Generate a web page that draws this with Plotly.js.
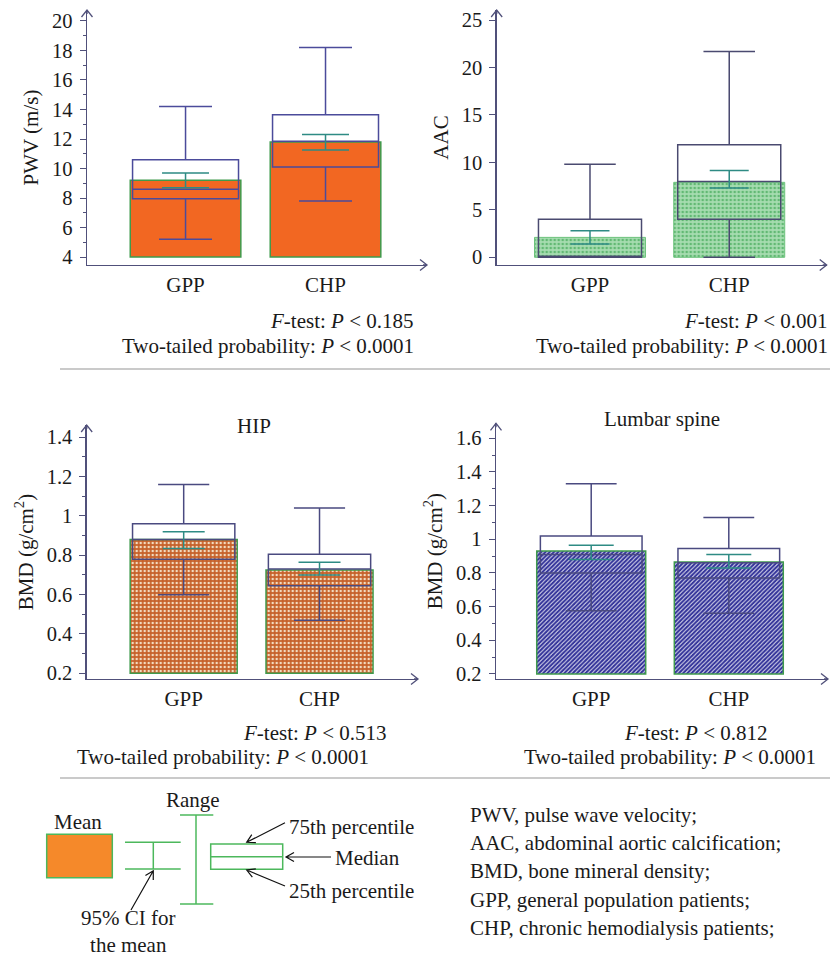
<!DOCTYPE html>
<html>
<head>
<meta charset="utf-8">
<script src="https://cdn.plot.ly/plotly-3.0.1.min.js"></script>
<style>html,body{margin:0;padding:0;background:#fff;}#chart{width:830px;height:978px;}</style>
</head>
<body>
<div id="chart"></div>
<script>
// ---------------- DATA ----------------
const categories = ['GPP', 'CHP'];

// PWV (m/s)
const pwvMean   = [9.2, 11.8];
const pwvQ1     = [7.95, 10.1];
const pwvMedian = [8.6, 11.85];
const pwvQ3     = [10.6, 13.65];
const pwvMin    = [5.2, 7.8];
const pwvMax    = [14.2, 18.2];
const pwvCiLow  = [8.7, 11.25];
const pwvCiHigh = [9.7, 12.3];

// AAC
const aacMean   = [2.1, 7.9];
const aacQ1     = [0, 4.0];
const aacMedian = [0, 8.0];
const aacQ3     = [4.0, 11.85];
const aacMin    = [0, 0];
const aacMax    = [9.8, 21.7];
const aacCiLow  = [1.4, 7.3];
const aacCiHigh = [2.8, 9.15];

// BMD hip (g/cm2)
const hipMean   = [0.88, 0.725];
const hipQ1     = [0.78, 0.645];
const hipMedian = [0.88, 0.73];
const hipQ3     = [0.96, 0.805];
const hipMin    = [0.6, 0.47];
const hipMax    = [1.16, 1.04];
const hipCiLow  = [0.835, 0.70];
const hipCiHigh = [0.92, 0.765];

// BMD lumbar spine (g/cm2)
const lumMean   = [0.93, 0.865];
const lumQ1     = [0.80, 0.77];
const lumMedian = [0.91, 0.86];
const lumQ3     = [1.02, 0.945];
const lumMin    = [0.575, 0.56];
const lumMax    = [1.33, 1.13];
const lumCiLow  = [0.88, 0.83];
const lumCiHigh = [0.965, 0.91];

// bar baselines (axis origin of each panel)
const barBase = [4, 0, 0.2, 0.2];

const fTests  = ['0.185', '0.001', '0.513', '0.812'];
const twoTail = ['0.0001', '0.0001', '0.0001', '0.0001'];

const glossary = [
  'PWV, pulse wave velocity;',
  'AAC, abdominal aortic calcification;',
  'BMD, bone mineral density;',
  'GPP, general population patients;',
  'CHP, chronic hemodialysis patients;'
];

// ---------------- STYLE / LAYOUT ----------------
const W = 830, H = 978;
const PX = v => v / W;
const PY = v => 1 - v / H;
const FONT = 'Liberation Serif, Times New Roman, serif';
const AXC = '#50507a';
const TXT = '#1a1a1a';
const TEAL = '#2e8b84';
const GREEN = '#4cb85c';

const panels = [
  { mean: pwvMean, q1: pwvQ1, med: pwvMedian, q3: pwvQ3, lo: pwvMin, hi: pwvMax, cl: pwvCiLow, ch: pwvCiHigh,
    xd: [87, 427], yd: [10, 265], xr: [-0.704, 1.725], yr: [3.458, 20.745],
    tick0: 4, dtick: 2, minor: 1, title: 'PWV (m/s)', barW: 0.79, boxW: 0.757, ciW: 23.5,
    boxColor: '#4b4b9b',
    marker: { color: '#f26722', line: { color: '#3f9a4c', width: 1.5 } } },
  { mean: aacMean, q1: aacQ1, med: aacMedian, q3: aacQ3, lo: aacMin, hi: aacMax, cl: aacCiLow, ch: aacCiHigh,
    xd: [496.7, 826.7], yd: [10, 265], xr: [-0.670, 1.700], yr: [-0.81, 26.06],
    tick0: 0, dtick: 5, minor: null, title: 'AAC', barW: 0.797, boxW: 0.74, ciW: 19.5,
    boxColor: '#4a4a70',
    marker: { color: '#a3dbad', line: { color: '#6cc27c', width: 1 },
              pattern: { shape: '.', bgcolor: '#a6dcb0', fgcolor: '#62b974', size: 4, solidity: 0.35 } } },
  { mean: hipMean, q1: hipQ1, med: hipMedian, q3: hipQ3, lo: hipMin, hi: hipMax, cl: hipCiLow, ch: hipCiHigh,
    xd: [86.7, 418], yd: [425, 679], xr: [-0.714, 1.725], yr: [0.171, 1.4625],
    tick0: 0.2, dtick: 0.2, minor: 0.1, title: 'BMD (g/cm<sup>2</sup>)', barW: 0.788, boxW: 0.753, ciW: 21,
    boxColor: '#4a4a80',
    marker: { color: '#c9652a', line: { color: '#3f9a4c', width: 1.5 },
              pattern: { shape: '.', bgcolor: '#c6612a', fgcolor: '#f3dcc0', size: 4, solidity: 0.3 } } },
  { mean: lumMean, q1: lumQ1, med: lumMedian, q3: lumQ3, lo: lumMin, hi: lumMax, cl: lumCiLow, ch: lumCiHigh,
    xd: [496, 828], yd: [423.3, 679], xr: [-0.692, 1.721], yr: [0.170, 1.689],
    tick0: 0.2, dtick: 0.2, minor: 0.1, title: 'BMD (g/cm<sup>2</sup>)', barW: 0.792, boxW: 0.739, ciW: 22.5,
    boxColor: '#4a4a80',
    marker: { color: '#3c3c9c', line: { color: '#3f9a4c', width: 1.5 },
              pattern: { shape: '/', bgcolor: '#e8e8f4', fgcolor: '#34349a', size: 3, solidity: 0.7 } } }
];

const xpos = categories.map((c, i) => i);
const traces = [];
const layout = {
  width: W, height: H,
  margin: { l: 0, r: 0, t: 0, b: 0 },
  paper_bgcolor: '#ffffff', plot_bgcolor: 'rgba(0,0,0,0)',
  showlegend: false, hovermode: false,
  font: { family: FONT, color: TXT, size: 21 },
  barmode: 'overlay', boxmode: 'overlay',
  shapes: [], annotations: []
};

// chevron arrow drawn as a path (tail -> head), pixel coords converted to paper
function arrowPath(tx, ty, hx, hy, len, half) {
  const dx = hx - tx, dy = hy - ty, d = Math.hypot(dx, dy);
  const ux = dx / d, uy = dy / d, nx = -uy, ny = ux;
  const b1x = hx - ux * len + nx * half, b1y = hy - uy * len + ny * half;
  const b2x = hx - ux * len - nx * half, b2y = hy - uy * len - ny * half;
  const P = (x, y) => PX(x) + ',' + PY(y);
  return 'M' + P(tx, ty) + 'L' + P(hx, hy) + 'M' + P(b1x, b1y) + 'L' + P(hx, hy) + 'L' + P(b2x, b2y);
}
const pathShape = (d, color, w) => ({ type: 'path', xref: 'paper', yref: 'paper', path: d,
  line: { color: color, width: w } });

panels.forEach((p, k) => {
  const n = k + 1;
  const xa = 'x' + (n === 1 ? '' : n), ya = 'y' + (n === 1 ? '' : n);
  const base = barBase[k];
  traces.push({
    type: 'bar', x: xpos, y: p.mean.map(m => m - base), base: xpos.map(() => base),
    width: p.barW, marker: p.marker, xaxis: xa, yaxis: ya
  });
  traces.push({
    type: 'box', x: xpos, q1: p.q1, median: p.med, q3: p.q3, lowerfence: p.lo, upperfence: p.hi,
    width: p.boxW, whiskerwidth: 0.5, boxpoints: false, fillcolor: 'rgba(0,0,0,0)',
    line: { color: p.boxColor, width: 1.5 }, xaxis: xa, yaxis: ya
  });
  traces.push({
    type: 'scatter', mode: 'markers', x: xpos, y: p.mean,
    marker: { size: 1, opacity: 0 },
    error_y: { type: 'data', symmetric: false,
               array: p.ch.map((v, i) => v - p.mean[i]),
               arrayminus: p.cl.map((v, i) => p.mean[i] - v),
               color: TEAL, thickness: 1.5, width: p.ciW },
    xaxis: xa, yaxis: ya
  });
  layout['xaxis' + (n === 1 ? '' : n)] = {
    domain: [PX(p.xd[0]), PX(p.xd[1])], range: p.xr, anchor: ya,
    showline: true, linecolor: AXC, linewidth: 1.3, ticks: '', showgrid: false, zeroline: false,
    tickmode: 'array', tickvals: xpos, ticktext: categories,
    tickfont: { family: FONT, size: 21, color: TXT }, ticklabelstandoff: 0
  };
  const yax = {
    domain: [PY(p.yd[1]), PY(p.yd[0])], range: p.yr, anchor: xa,
    showline: true, linecolor: AXC, linewidth: 1.3, ticks: 'outside', ticklen: 6, tickwidth: 1, tickcolor: AXC,
    showgrid: false, zeroline: false, tick0: p.tick0, dtick: p.dtick,
    tickfont: { family: FONT, size: 20.5, color: TXT }, ticklabelstandoff: 3,
    title: { text: p.title, font: { family: FONT, size: 21, color: TXT }, standoff: 7 }
  };
  if (p.minor) yax.minor = { dtick: p.minor, ticks: 'outside', ticklen: 3, tickcolor: AXC, showgrid: false };
  layout['yaxis' + (n === 1 ? '' : n)] = yax;

  // axis arrowheads (open chevrons at the axis ends)
  layout.shapes.push(pathShape(arrowPath(p.xd[1] - 4, p.yd[1], p.xd[1], p.yd[1], 7, 5.5), AXC, 1.3));
  layout.shapes.push(pathShape(arrowPath(p.xd[0], p.yd[0] + 4, p.xd[0], p.yd[0], 7, 5.5), AXC, 1.3));
});

// statistics text
const statPos = [
  { f: [416, 321, 'right'], t: [416, 346, 'right'] },
  { f: [830, 321, 'right'], t: [830, 346, 'right'] },
  { f: [389, 733, 'right'], t: [371, 757, 'right'] },
  { f: [770, 733, 'right'], t: [818, 757, 'right'] }
];
const txtAnn = (x, y, text, xanchor, size) => ({
  xref: 'paper', yref: 'paper', x: PX(x), y: PY(y), text: text, showarrow: false,
  xanchor: xanchor || 'center', yanchor: 'middle', font: { family: FONT, size: size || 21, color: TXT }
});
statPos.forEach((s, k) => {
  layout.annotations.push(txtAnn(s.f[0], s.f[1], '<i>F</i>-test: <i>P</i> &lt; ' + fTests[k], s.f[2]));
  layout.annotations.push(txtAnn(s.t[0], s.t[1], 'Two-tailed probability: <i>P</i> &lt; ' + twoTail[k], s.t[2]));
});
layout.annotations.push(txtAnn(254, 426, 'HIP'));
layout.annotations.push(txtAnn(662, 419, 'Lumbar spine'));

// separators
[369, 778].forEach(y => layout.shapes.push({ type: 'line', xref: 'paper', yref: 'paper',
  x0: PX(60), x1: PX(830), y0: PY(y), y1: PY(y), line: { color: '#b8b8b8', width: 1.5 } }));

// legend key drawing
const seg = (x0, y0, x1, y1) => ({ type: 'line', xref: 'paper', yref: 'paper',
  x0: PX(x0), y0: PY(y0), x1: PX(x1), y1: PY(y1), line: { color: GREEN, width: 1.5 } });
layout.shapes.push({ type: 'rect', xref: 'paper', yref: 'paper', x0: PX(46.7), x1: PX(112.3), y0: PY(877.7), y1: PY(834.3),
  fillcolor: '#f5892a', line: { color: GREEN, width: 1.5 } });
layout.shapes.push(seg(125, 842.3, 180.7, 842.3), seg(125, 869, 180.7, 869), seg(153.3, 842.3, 153.3, 869));
layout.shapes.push(seg(196, 815, 196, 904), seg(180, 815, 213.3, 815), seg(180, 904, 213.3, 904));
layout.shapes.push({ type: 'rect', xref: 'paper', yref: 'paper', x0: PX(210.7), x1: PX(282.7), y0: PY(869.3), y1: PY(844),
  fillcolor: 'rgba(0,0,0,0)', line: { color: GREEN, width: 1.5 } });
layout.shapes.push(seg(210.7, 856.7, 282.7, 856.7));

layout.annotations.push(txtAnn(77.7, 821.7, 'Mean'));
layout.annotations.push(txtAnn(192.7, 800, 'Range'));
layout.annotations.push(txtAnn(287.3, 826.7, '75th percentile', 'left'));
layout.annotations.push(txtAnn(333.3, 858, 'Median', 'left'));
layout.annotations.push(txtAnn(287.3, 891, '25th percentile', 'left'));
layout.annotations.push(txtAnn(127.5, 931, '95% CI for<br>the mean'));

layout.shapes.push(pathShape(arrowPath(285, 822.7, 246.7, 842.3, 8, 4.5), '#111', 1.2));
layout.shapes.push(pathShape(arrowPath(331, 857, 286, 857, 8, 4.5), '#111', 1.2));
layout.shapes.push(pathShape(arrowPath(285, 886, 246.7, 870, 8, 4.5), '#111', 1.2));
layout.shapes.push(pathShape(arrowPath(131, 910, 153.3, 870.7, 8, 4.5), '#111', 1.2));

glossary.forEach((g, i) => layout.annotations.push(txtAnn(468, 815 + 28.2 * i, g, 'left')));

Plotly.newPlot('chart', traces, layout, { staticPlot: true, displayModeBar: false });
</script>
</body>
</html>
